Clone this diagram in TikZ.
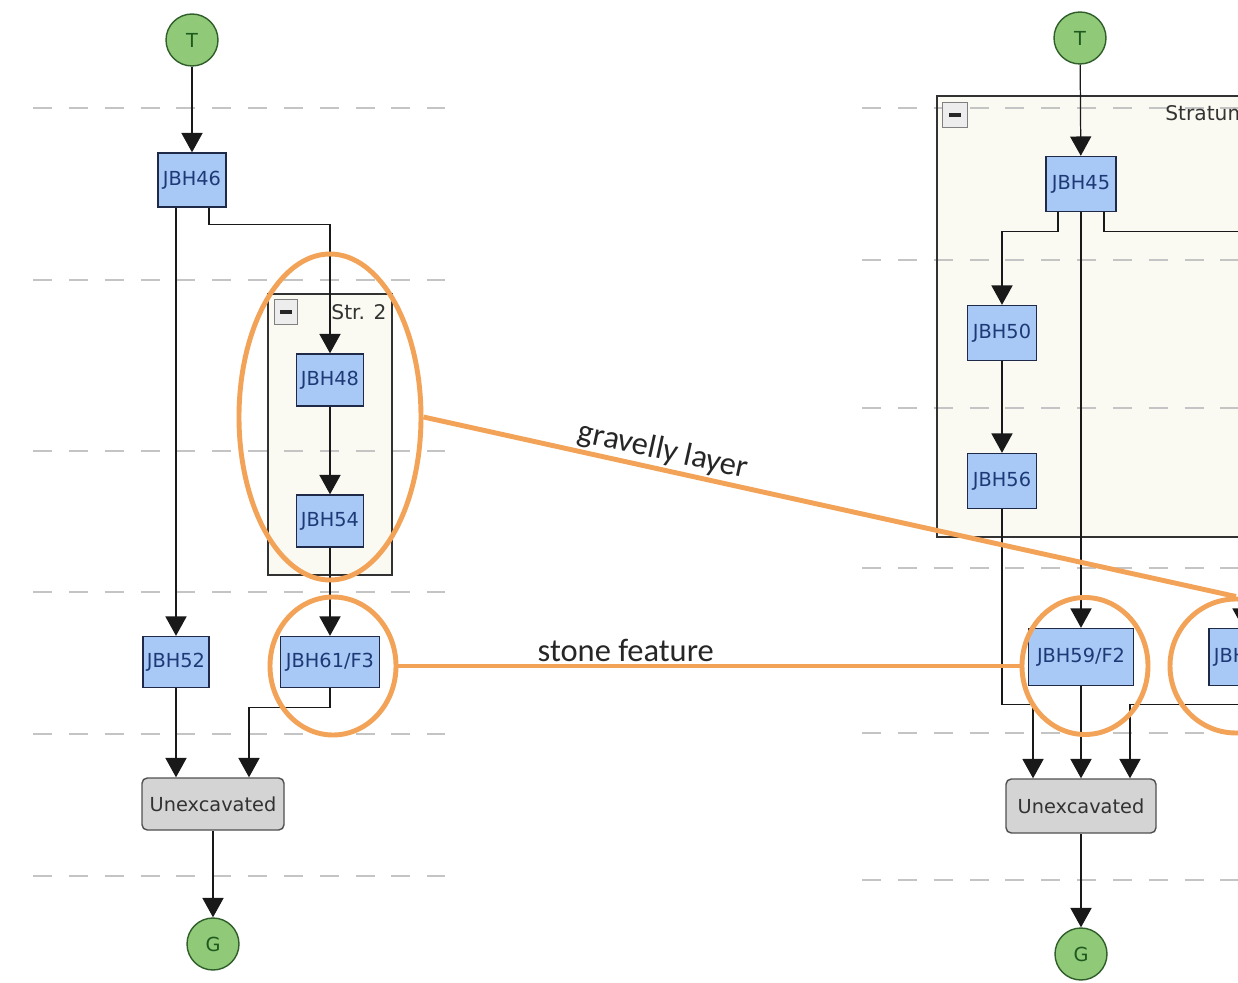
\documentclass[tikz,border=0pt]{standalone}
\usepackage{fontspec}
\setmainfont{DejaVu Sans}
\newfontfamily\calib{Carlito}
\usetikzlibrary{arrows.meta,shapes.geometric}
\definecolor{boxfill}{RGB}{168,200,246}
\definecolor{boxborder}{RGB}{30,42,72}
\definecolor{boxtext}{RGB}{30,58,118}
\definecolor{unfill}{RGB}{212,212,212}
\definecolor{unborder}{RGB}{80,80,80}
\definecolor{untext}{RGB}{50,50,50}
\definecolor{termfill}{RGB}{144,201,120}
\definecolor{termborder}{RGB}{48,94,42}
\definecolor{termtext}{RGB}{30,90,30}
\definecolor{grpfill}{RGB}{250,250,243}
\definecolor{grpborder}{RGB}{50,50,50}
\definecolor{dashc}{RGB}{196,196,196}
\definecolor{orng}{RGB}{242,163,88}
\definecolor{edgec}{RGB}{25,25,25}
\begin{document}
\begin{tikzpicture}[x=0.02cm,y=-0.02cm,
  nfont/.style={font=\fontsize{11}{13}\selectfont},
  sz/.style 2 args={minimum width=#1*0.02cm, minimum height=#2*0.02cm},
  unit/.style={draw=boxborder, fill=boxfill, line width=0.8pt, text=boxtext, nfont, inner sep=0pt},
  unexc/.style={draw=unborder, fill=unfill, line width=0.8pt, text=untext, nfont, inner sep=0pt, rounded corners=3pt},
  term/.style={circle, draw=termborder, fill=termfill, line width=0.8pt, minimum size=1.04cm, inner sep=0pt, text=termtext, nfont},
  grp/.style={draw=grpborder, fill=grpfill, line width=0.8pt},
  minusbtn/.style={draw=gray, fill=black!7, line width=0.6pt, inner sep=0pt},
  grplabel/.style={font=\fontsize{11.5}{13}\selectfont, text=black!80, inner sep=0pt},
  dl/.style={draw=dashc, line width=0.8pt, dash pattern=on 10.8pt off 9.6pt},
  arr/.style={draw=edgec, line width=0.7pt, -{Triangle[length=11pt,width=12pt]}},
  hl/.style={draw=orng, line width=2.8pt},
  hlring/.style={ellipse, hl, inner sep=0pt},
  annot/.style={font=\calib\fontsize{18.5}{22}\selectfont, text=black!85}
]
\useasboundingbox (0,0) rectangle (1238,983);
\clip (0,0) rectangle (1238,983);
\fill[white] (0,0) rectangle (1238,983);

% group boxes (fill)
\fill[grpfill] (268,294) rectangle (392,575);
\fill[grpfill] (937,96) rectangle (1300,537);

% dashed level lines
\foreach \yy in {108,280,451,592,734,876} \draw[dl] (33,\yy) -- (445,\yy);
\foreach \yy in {108,260,408,568,733,880} \draw[dl] (862,\yy) -- (1238,\yy);

% group borders
\draw[grpborder, line width=0.8pt] (268,294) rectangle (392,575);
\draw[grpborder, line width=0.8pt] (937,96) rectangle (1300,537);
\node[minusbtn, sz={23}{25}] (m1) at (286,312) {\color{black!85}\rule{6.5pt}{2pt}};
\node[minusbtn, sz={25}{25}] (m2) at (955,115) {\color{black!85}\rule{6.5pt}{2pt}};
\node[grplabel] (g1) at (359,312) {Str. 2};
\node[grplabel, anchor=west] (g2) at (1165,113) {Stratum};

% left column nodes
\node[term] (T1) at (192,40) {T};
\node[unit, sz={68}{54}] (n46) at (192,180) {JBH46};
\node[unit, sz={67}{52}] (n48) at (330,380) {JBH48};
\node[unit, sz={67}{52}] (n54) at (330,521) {JBH54};
\node[unit, sz={66}{51}] (n52) at (176,662) {JBH52};
\node[unit, sz={99}{51}] (n61) at (330,662) {JBH61/F3};
\node[unexc, sz={142}{52}] (U1) at (213,804) {Unexcavated};
\node[term] (G1) at (213,944) {G};

% right column nodes
\node[term] (T2) at (1080,38) {T};
\node[unit, sz={70}{55}] (n45) at (1081,184) {JBH45};
\node[unit, sz={69}{55}] (n50) at (1002,333) {JBH50};
\node[unit, sz={69}{55}] (n56) at (1002,481) {JBH56};
\node[unit, sz={105}{57}] (n59) at (1081,657) {JBH59/F2};
\node[unit, sz={68}{57}] (nX) at (1243,657) {JBH\phantom{00}};
\node[unexc, sz={150}{54}] (U2) at (1081,806) {Unexcavated};
\node[term] (G2) at (1081,954) {G};

% left edges
\draw[arr] (T1) -- (n46);
\draw[arr] (n46.south -| n52) -- (n52);
\draw[arr] ([xshift=0.34cm]n46.south) -- ++(0,17) -| (n48);
\draw[arr] (n48) -- (n54);
\draw[arr] (n54) -- (n61);
\draw[arr] (n52.south) -- (n52.south |- U1.north);
\draw[arr] (n61.south) -- ++(0,19) -| ([xshift=0.72cm]U1.north);
\draw[arr] (U1) -- (G1);

% right edges
\draw[arr] (T2) -- (n45);
\draw[arr] ([xshift=-0.46cm]n45.south) -- ++(0,19) -| (n50);
\draw[arr] ([xshift=0.46cm]n45.south) -- ++(0,19) -| (nX);
\draw[arr] (n45) -- (n59);
\draw[arr] (n50) -- (n56);
\draw[arr] (n56.south) -- ++(0,195) -| ([xshift=-0.96cm]U2.north);
\draw[arr] (nX.south) -- ++(0,18) -| ([xshift=0.98cm]U2.north);
\draw[arr] (n59) -- (U2);
\draw[arr] (U2) -- (G2);

% orange highlights
\node[hlring, sz={182}{326}] (e1) at (330,417) {};
\node[hlring, sz={126}{138}] (e2) at (333,666) {};
\node[hlring, sz={132}{134}] (e3) at (1236,666) {};
\node[hlring, sz={126}{137}] (e4) at (1085,666) {};
\draw[hl] (e1.east) -- node[annot, pos=0.29, sloped, above, inner sep=1pt] {gravelly layer} (e3.north);
\draw[hl] (e2.east) -- node[annot, pos=0.366, above, inner sep=1pt] {stone feature} (e4.west);
\end{tikzpicture}
\end{document}
